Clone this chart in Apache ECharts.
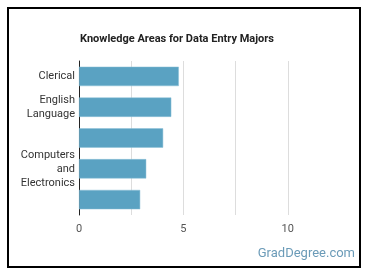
<!DOCTYPE html>
<html>
<head>
<meta charset="utf-8">
<script src="https://cdn.jsdelivr.net/npm/echarts@6/dist/echarts.min.js"></script>
<style>
html, body { margin: 0; padding: 0; background: #fff; }
#chart { width: 370px; height: 278px; }
</style>
</head>
<body>
<div id="chart"></div>
<script>
var categories = ['Clerical', 'English\nLanguage', '', 'Computers\nand\nElectronics', ''];
var values = [4.78, 4.42, 4.03, 3.22, 2.93];
var tickLabels = ['0', '5', '10'];

var myChart = echarts.init(document.getElementById('chart'));
var option = {
    backgroundColor: '#fff',
    title: {
        text: 'Knowledge Areas for Data Entry Majors',
        left: 75,
        top: 29,
        textStyle: { color: '#222', fontSize: 11, fontWeight: 'bold', fontFamily: 'Roboto' }
    },
    graphic: [
        {
            type: 'rect',
            shape: { x: 8, y: 8, width: 352, height: 259 },
            style: { fill: 'none', stroke: '#000', lineWidth: 2 }
        },
        {
            type: 'text',
            right: 15,
            top: 247,
            style: { text: 'GradDegree.com', fill: '#6b9bb8', font: '13px Roboto' }
        }
    ],
    grid: { left: 79, right: 30, top: 61, bottom: 63 },
    xAxis: {
        type: 'value',
        min: 0,
        max: 12.5,
        interval: 2.5,
        axisLine: { show: false },
        axisTick: { show: false },
        axisLabel: {
            color: '#555',
            fontSize: 11,
            fontFamily: 'Roboto',
            margin: 9,
            formatter: function (v) {
                var i = tickLabels.indexOf(String(v));
                return i >= 0 ? tickLabels[i] : '';
            }
        },
        splitLine: {
            lineStyle: { color: ['#ddd', '#ddd', '#ddd', '#ddd', '#ddd', 'rgba(0,0,0,0)'], width: 1 }
        }
    },
    yAxis: {
        type: 'category',
        inverse: true,
        data: categories,
        axisLine: { lineStyle: { color: '#222', width: 1 } },
        axisTick: { show: false },
        axisLabel: { color: '#333', fontSize: 11, fontFamily: 'Roboto', margin: 4, lineHeight: 14 }
    },
    series: [
        {
            type: 'bar',
            data: values,
            barCategoryGap: '37%',
            itemStyle: { color: '#5aa2c2', borderColor: '#8cc0d8', borderWidth: 0.5 },
            silent: true
        }
    ]
};
myChart.setOption(option);
window.addEventListener('resize', function () {
    myChart.resize();
});
</script>
</body>
</html>
